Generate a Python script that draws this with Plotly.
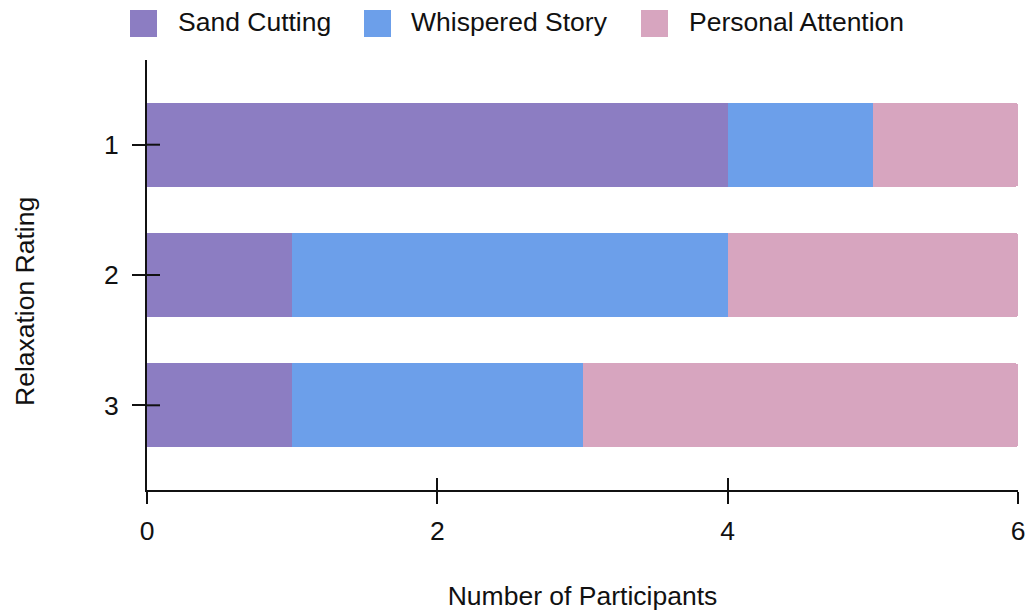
import plotly.graph_objects as go

# Relaxation ratings and the number of participants choosing each trigger
ratings = ["1", "2", "3"]
sand_cutting = [4, 1, 1]
whispered_story = [1, 3, 2]
personal_attention = [1, 2, 3]

series_names = ["Sand Cutting", "Whispered Story", "Personal Attention"]
series_colors = ["#8c7dc2", "#6c9fea", "#d7a5bf"]
series_values = [sand_cutting, whispered_story, personal_attention]

x_ticks = [0, 2, 4, 6]

FONT = "Liberation Sans, Arial, Helvetica, sans-serif"
FS = 26.5
INK = "#111111"

W, H = 1027, 611
PLOT_L, PLOT_R, PLOT_T, PLOT_B = 147, 1018, 60, 490


def px_x(px):
    return (px - PLOT_L) / (PLOT_R - PLOT_L)


def px_y(py):
    return (PLOT_B - py) / (PLOT_B - PLOT_T)


fig = go.Figure()
for name, color, vals in zip(series_names, series_colors, series_values):
    fig.add_trace(go.Bar(
        y=ratings, x=vals, orientation="h", name=name,
        marker=dict(color=color, line=dict(width=0)),
        showlegend=False, hoverinfo="x+name",
    ))

# empty trace so the overlaid tick-only x axis gets rendered
fig.add_trace(go.Scatter(x=[], y=[], xaxis="x2", yaxis="y",
                         showlegend=False, hoverinfo="skip"))

shapes = []
annotations = []

# inner half of the y ticks, crossing the axis line over the bars
# (category axis: shapes take the category index)
for idx, _ in enumerate(ratings):
    shapes.append(dict(
        type="line", xref="paper", yref="y", xsizemode="pixel", xanchor=0,
        x0=0, x1=13, y0=idx, y1=idx, line=dict(color=INK, width=2),
        layer="above",
    ))

# Legend drawn as swatches + labels across the top
swatch_left = [130, 364, 641]
label_left = [176, 409, 687]
for name, color, sl, tl in zip(series_names, series_colors, swatch_left, label_left):
    shapes.append(dict(
        type="rect", xref="paper", yref="paper",
        x0=px_x(sl), x1=px_x(sl + 27), y0=px_y(37), y1=px_y(10),
        fillcolor=color, line=dict(width=0), layer="above",
    ))
    annotations.append(dict(
        text=name, xref="paper", yref="paper", x=px_x(tl), y=px_y(22),
        xanchor="left", yanchor="middle", showarrow=False,
        font=dict(family=FONT, size=FS, color=INK),
    ))

annotations.append(dict(
    text="Relaxation Rating", xref="paper", yref="paper",
    x=px_x(25), y=px_y(302), textangle=-90, showarrow=False,
    xanchor="center", yanchor="middle",
    font=dict(family=FONT, size=FS, color=INK),
))

axis_line = dict(showline=True, linecolor=INK, linewidth=2, automargin=False,
                 showgrid=False, zeroline=False, tickcolor=INK, tickwidth=2)

fig.update_layout(
    width=W, height=H, autosize=False,
    margin=dict(l=PLOT_L, r=W - PLOT_R, t=PLOT_T, b=H - PLOT_B, pad=0),
    paper_bgcolor="white", plot_bgcolor="white",
    barmode="stack", bargap=0.354, barcornerradius=3,
    font=dict(family=FONT, size=FS, color=INK),
    showlegend=False,
    shapes=shapes, annotations=annotations,
    xaxis=dict(
        range=[0, 6], tickvals=x_ticks, ticks="outside", ticklen=12,
        ticklabelstandoff=4,
        title=dict(text="Number of Participants", standoff=47,
                   font=dict(family=FONT, size=FS, color=INK)),
        tickfont=dict(family=FONT, size=FS, color=INK),
        **axis_line,
    ),
    xaxis2=dict(
        overlaying="x", anchor="y", side="bottom", range=[0, 6],
        tickvals=x_ticks, ticks="inside", ticklen=12, tickcolor=INK,
        tickwidth=2, showticklabels=False, showline=False,
        showgrid=False, zeroline=False, automargin=False,
    ),
    yaxis=dict(
        type="category", categoryorder="array", categoryarray=ratings,
        range=[2.65, -0.65], ticks="outside", ticklen=13,
        ticklabelstandoff=8, layer="below traces",
        tickfont=dict(family=FONT, size=FS, color=INK),
        **axis_line,
    ),
)

fig.write_html("out.html")
